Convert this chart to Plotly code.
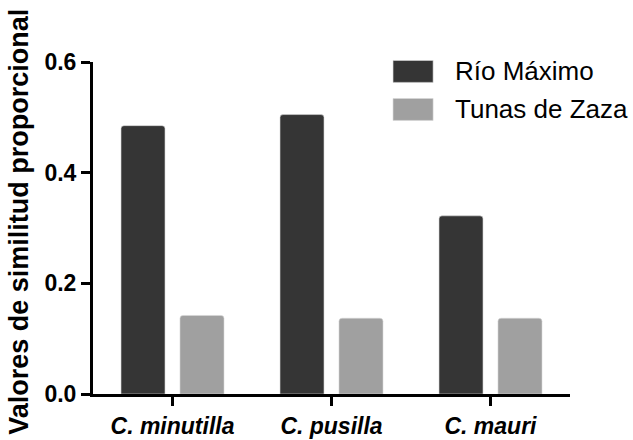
import plotly.graph_objects as go

# Similarity values per species and locality
species = ["C. minutilla", "C. pusilla", "C. mauri"]
rio_maximo = [0.485, 0.505, 0.322]
tunas_de_zaza = [0.142, 0.137, 0.137]

series_names = ["Río Máximo", "Tunas de Zaza"]
series_colors = ["#353535", "#a0a0a0"]

y_ticks = [0.0, 0.2, 0.4, 0.6]
y_title = "Valores de similitud proporcional"

FONT = "Liberation Sans, Arial, sans-serif"

fig = go.Figure()
for name, vals, col in zip(series_names, [rio_maximo, tunas_de_zaza], series_colors):
    fig.add_trace(go.Bar(
        x=species, y=vals, name=name,
        marker=dict(color=col, line=dict(width=0.6, color="#d8d8d8")),
        showlegend=False,
    ))

fig.update_layout(
    width=633, height=440,
    margin=dict(l=93, r=63, t=62, b=46),
    paper_bgcolor="white", plot_bgcolor="white",
    barmode="group", bargap=0.258, bargroupgap=0.254,
    barcornerradius=3,
    font=dict(family=FONT, color="black"),
)

fig.update_xaxes(
    range=[-0.5, 2.5], automargin=False,
    showline=True, linecolor="black", linewidth=3,
    ticks="outside", ticklen=9, tickwidth=3, tickcolor="black",
    tickfont=dict(family=FONT, size=23, weight="bold", style="italic", color="black"),
    showgrid=False, zeroline=False,
)
fig.update_yaxes(
    range=[0, 0.6], automargin=False,
    tickvals=y_ticks, tickformat=".1f",
    showline=True, linecolor="black", linewidth=3,
    ticks="outside", ticklen=9, tickwidth=3, tickcolor="black",
    tickfont=dict(family=FONT, size=23, weight="bold", color="black"),
    showgrid=False, zeroline=False,
)

# Rotated axis title
fig.add_annotation(
    text=y_title, textangle=-90,
    xref="paper", yref="paper", x=-0.155, y=0.519,
    xanchor="center", yanchor="middle", showarrow=False,
    font=dict(family=FONT, size=27, weight="bold", color="black"),
)

# Legend: large swatches with labels
legend_rows = [0.9716, 0.857]
for name, col, yc in zip(series_names, series_colors, legend_rows):
    fig.add_shape(
        type="rect", xref="paper", yref="paper",
        x0=0.629, x1=0.713, y0=yc - 0.033, y1=yc + 0.033,
        fillcolor=col, line=dict(width=0.6, color="#d8d8d8"),
    )
    fig.add_annotation(
        text=name, xref="paper", yref="paper", x=0.755, y=yc,
        xanchor="left", yanchor="middle", showarrow=False,
        font=dict(family=FONT, size=26, color="black"),
    )

fig.write_html("out.html")
